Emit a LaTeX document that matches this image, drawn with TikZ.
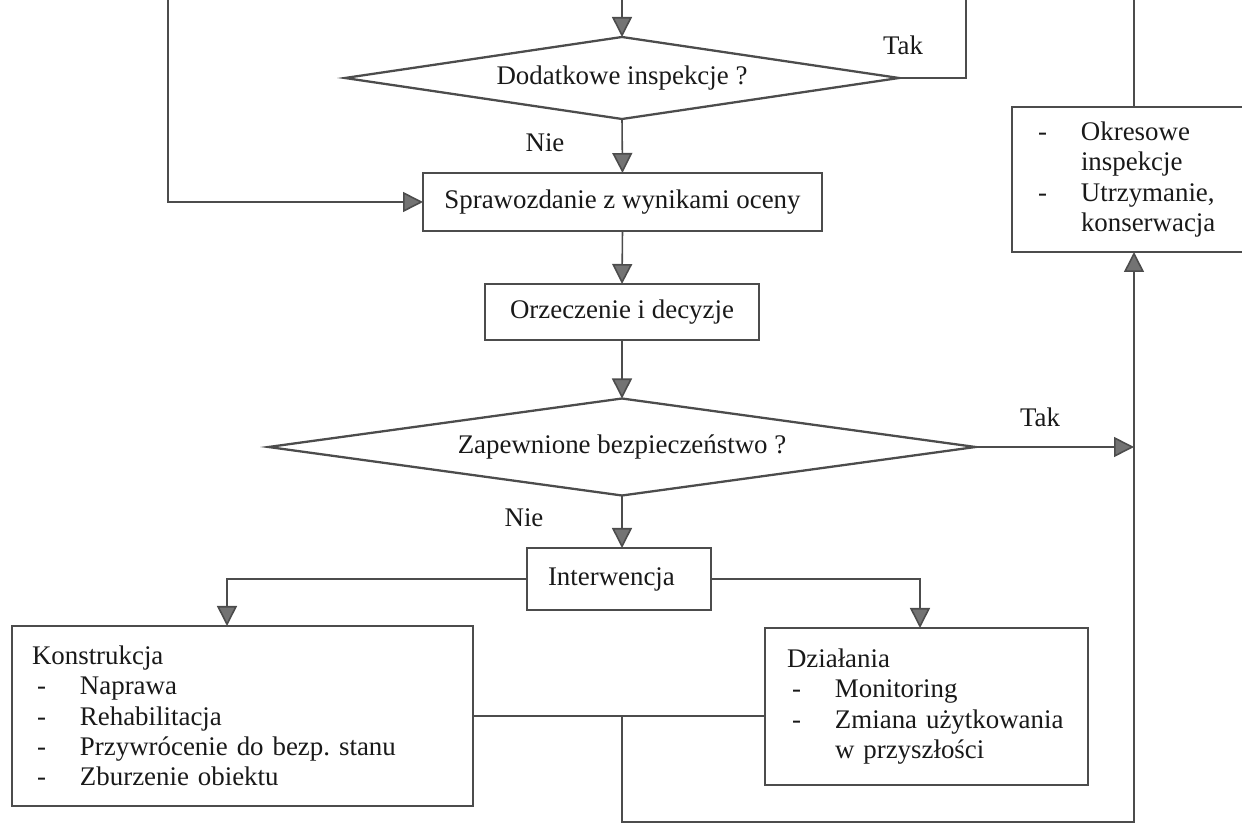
\documentclass[tikz,border=0pt]{standalone}
\usepackage{fontspec}
\setmainfont{Liberation Serif}
\usetikzlibrary{positioning,arrows.meta,shapes.geometric}

\tikzset{
  blok/.style={draw=black!70,line width=0.9pt,outer sep=0pt,inner sep=0pt,align=center},
  lista/.style={blok,align=left,inner xsep=0.42cm},
  pytanie/.style={diamond,draw=black!70,line width=1.3pt,outer sep=0pt,inner sep=0pt,aspect=6},
  linia/.style={draw=black!70,line width=0.9pt},
  strz/.style={linia,-{Triangle[length=0.4cm,width=0.4cm,fill=black!55]}},
  napis/.style={inner sep=0pt},
}
\newcommand{\pkt}[1]{\makebox[0.96cm][l]{\hspace{0.1cm}-}#1}

\begin{document}
\begin{tikzpicture}[font=\fontsize{15.3pt}{17.2pt}\selectfont,text=black!90]
  \useasboundingbox (0,0) rectangle (24.84,-16.46);
  \clip (0,0) rectangle (24.84,-16.46);
  % --- wejscia z gory ---
  \coordinate (gora) at (12.44,0);
  \coordinate (lewa) at (3.36,0);
  \coordinate (prawa) at (19.32,0);
  \coordinate (dol) at (22.68,-16.44);
  % --- glowny ciag ---
  \node[pytanie,minimum width=11.08cm,minimum height=1.64cm] (insp) at (12.44,-1.56) {Dodatkowe inspekcje ?};
  \node[blok,minimum width=7.98cm,minimum height=1.16cm] (spraw) at (12.45,-4.04) {Sprawozdanie z wynikami oceny};
  \node[blok,minimum width=5.48cm,minimum height=1.12cm] (orzecz) at (12.44,-6.24) {Orzeczenie i decyzje};
  \node[pytanie,minimum width=14.14cm,minimum height=1.94cm] (bezp) at (12.44,-8.94) {Zapewnione bezpieczeństwo ?};
  \node[lista,text width=2.84cm,minimum height=1.24cm] (interw) at (12.38,-11.58) {Interwencja};
  % --- dolne bloki ---
  \node[lista,inner xsep=0.4cm,text width=8.42cm,minimum height=3.6cm] (konstr) at (4.85,-14.32)
    {Konstrukcja\\\pkt{Naprawa}\\\pkt{Rehabilitacja}\\\pkt{Przywrócenie do bezp.\ stanu}\\\pkt{Zburzenie obiektu}};
  \node[lista,inner xsep=0.44cm,text width=5.58cm,minimum height=3.14cm] (dzial) at (18.53,-14.13)
    {Działania\\\pkt{Monitoring}\\\pkt{Zmiana użytkowania}\\\hspace*{0.96cm}w przyszłości};
  \node[lista,text width=4.04cm,minimum height=2.9cm] (okres) at (22.68,-3.59)
    {\pkt{Okresowe}\\\hspace*{0.96cm}inspekcje\\\pkt{Utrzymanie,}\\\hspace*{0.96cm}konserwacja};
  % --- etykiety ---
  \node[napis] (tak1) at (18.06,-0.9) {Tak};
  \node[napis] (nie1) at (10.9,-2.86) {Nie};
  \node[napis] (tak2) at (20.8,-8.34) {Tak};
  \node[napis] (nie2) at (10.48,-10.36) {Nie};
  % --- polaczenia ---
  \draw[strz] (gora) -- (insp.north);
  \draw[linia] (insp.east) -| (prawa);
  \draw[strz] (insp.south) -- (spraw.north);
  \draw[strz] (lewa) |- (spraw.west);
  \draw[strz] (spraw.south) -- (orzecz.north);
  \draw[strz] (orzecz.south) -- (bezp.north);
  \draw[strz] (bezp.east) -- (bezp.east -| dol);
  \draw[strz] (bezp.south) -- (bezp.south |- interw.north);
  \draw[strz] (interw.west) -| ([xshift=-0.31cm]konstr.north);
  \draw[strz] (interw.east) -| ([xshift=-0.13cm]dzial.north);
  \draw[linia] (konstr.east) -- (konstr.east -| dzial.west);
  \draw[strz] (konstr.east -| gora) |- (dol) -- (okres.south);
  \draw[linia] (okres.north) -- ++(0,3);
\end{tikzpicture}
\end{document}
